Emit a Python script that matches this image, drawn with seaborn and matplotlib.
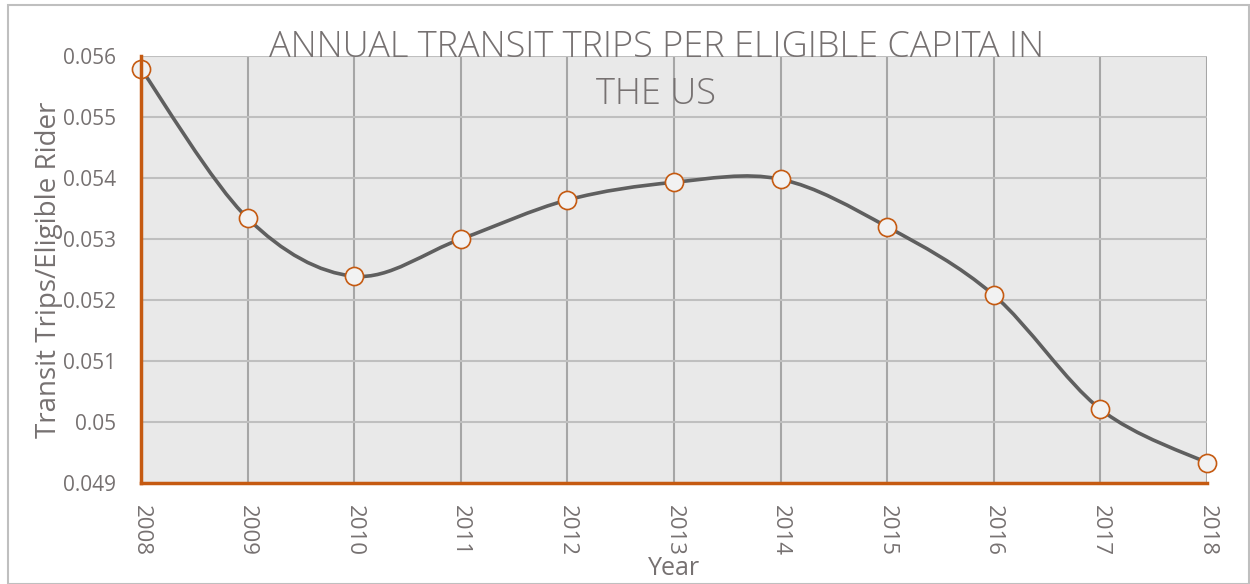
import matplotlib.pyplot as plt
import seaborn as sns
import numpy as np
from matplotlib.path import Path
from matplotlib.patches import PathPatch, Rectangle

years = [2008, 2009, 2010, 2011, 2012, 2013, 2014, 2015, 2016, 2017, 2018]
trips = [0.05579, 0.05334, 0.05239, 0.05300, 0.05364, 0.05393, 0.05398,
         0.05320, 0.05208, 0.05021, 0.04933]
y_ticks = [0.049, 0.05, 0.051, 0.052, 0.053, 0.054, 0.055, 0.056]
y_tick_labels = ['0.049', '0.05', '0.051', '0.052', '0.053', '0.054', '0.055', '0.056']

orange = '#C55A11'
text_gray = '#767171'

sns.set_theme(style='white')
plt.rcParams['font.family'] = ['Open Sans', 'DejaVu Sans']

fig = plt.figure(figsize=(12.5, 5.84), dpi=100)
ax = fig.add_axes([0.1128, 0.1729, 0.8528, 0.7312])

# outer chart border
fig.patches.append(Rectangle((0.006, 0.0), 0.993, 0.991, transform=fig.transFigure,
                             fill=False, edgecolor='#BFBFBF', linewidth=1.5))

ax.set_facecolor('#E9E9E9')

# smoothed line like the spreadsheet's, as bezier segments
pts = np.column_stack([years, trips]).astype(float)
verts = [tuple(pts[0])]
codes = [Path.MOVETO]
n = len(pts)
for i in range(n - 1):
    p0 = pts[max(i - 1, 0)]
    p1 = pts[i]
    p2 = pts[i + 1]
    p3 = pts[min(i + 2, n - 1)]
    c1 = p1 + (p2 - p0) / 6
    c2 = p2 - (p3 - p1) / 6
    verts += [tuple(c1), tuple(c2), tuple(p2)]
    codes += [Path.CURVE4] * 3
ax.add_patch(PathPatch(Path(verts, codes), fill=False, edgecolor='#5F5F5F',
                       linewidth=2.6, zorder=3, capstyle='round'))

sns.scatterplot(x=years, y=trips, ax=ax, s=170, color='#F2F2F2', edgecolor=orange,
                linewidth=1.2, zorder=4, clip_on=False)

ax.set_xlim(2008, 2018)
ax.set_ylim(0.049, 0.056)
ax.set_xticks(years)
ax.set_xticklabels([str(y) for y in years], rotation=-90)
ax.set_yticks(y_ticks)
ax.set_yticklabels(y_tick_labels)
ax.tick_params(axis='both', labelsize=15, colors=text_gray, length=0)
ax.tick_params(axis='y', pad=18)
ax.tick_params(axis='x', pad=16, labelsize=16)

ax.grid(axis='x', color='#A6A6A6', linewidth=1.5)
ax.grid(axis='y', color='#BFBFBF', linewidth=1.5)
ax.set_axisbelow(True)

for side in ['top', 'right']:
    ax.spines[side].set_visible(False)
for side in ['left', 'bottom']:
    ax.spines[side].set_color(orange)
    ax.spines[side].set_linewidth(2.5)
    ax.spines[side].set_zorder(5)

ax.set_ylabel('Transit Trips/Eligible Rider', fontsize=20, color=text_gray, labelpad=0)
ax.set_xlabel('Year', fontsize=18, color=text_gray, labelpad=0)

fig.text(0.525, 0.878, 'ANNUAL TRANSIT TRIPS PER ELIGIBLE CAPITA IN\nTHE US',
         ha='center', va='center', fontsize=26, color=text_gray, fontweight='light',
         linespacing=1.35)

fig.savefig('out.png', dpi=100)
